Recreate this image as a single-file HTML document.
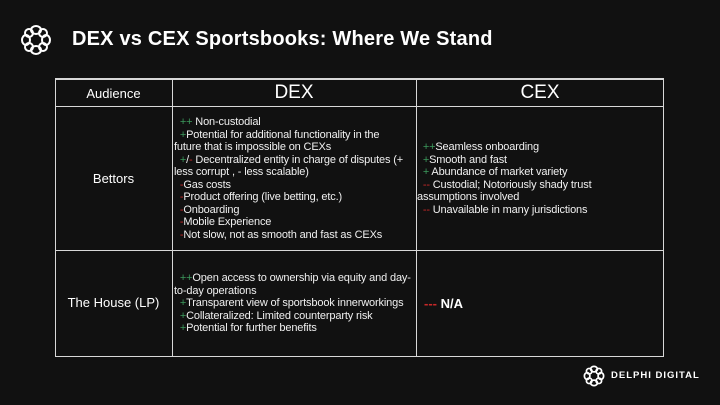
<!DOCTYPE html><html><head><style>
body{margin:0;width:720px;height:405px;background:#111111;overflow:hidden;font-family:"Liberation Sans",sans-serif;color:#fff;position:relative}
.a{position:absolute;white-space:nowrap}
.t{font-size:11px;letter-spacing:-0.15px;color:#f0f0f0;line-height:12.5px}
.g{color:#3c9a5c}.r{color:#c82828}
.ln{position:absolute;background:#d8d8d8}
</style></head><body>
<svg class="a" style="left:20px;top:24px" width="32" height="32" viewBox="0 0 32 32" fill="none" stroke="#fff" stroke-width="2">
<ellipse cx="16" cy="6" rx="5" ry="4"/><ellipse cx="16" cy="26" rx="5" ry="4"/><ellipse cx="6" cy="16" rx="4" ry="5"/><ellipse cx="26" cy="16" rx="4" ry="5"/>
<ellipse cx="9" cy="9" rx="4" ry="4"/><ellipse cx="23" cy="9" rx="4" ry="4"/><ellipse cx="9" cy="23" rx="4" ry="4"/><ellipse cx="23" cy="23" rx="4" ry="4"/></svg>
<div class="a" style="left:72px;top:28px;font-size:20px;font-weight:bold;letter-spacing:0.2px">DEX vs CEX Sportsbooks: Where We Stand</div>
<div class="ln" style="left:55px;top:78px;width:609px;height:2px"></div>
<div class="ln" style="left:55px;top:356px;width:609px;height:1px"></div>
<div class="ln" style="left:55px;top:78px;width:1px;height:279px"></div>
<div class="ln" style="left:663px;top:78px;width:1px;height:279px"></div>
<div class="ln" style="left:55px;top:106px;width:609px;height:1px"></div>
<div class="ln" style="left:55px;top:250px;width:609px;height:1px"></div>
<div class="ln" style="left:172px;top:78px;width:1px;height:279px"></div>
<div class="ln" style="left:416px;top:78px;width:1px;height:279px"></div>
<div class="a" style="left:55px;width:117px;text-align:center;top:86px;font-size:13px">Audience</div>
<div class="a" style="left:172px;width:244px;text-align:center;top:82px;font-size:19px">DEX</div>
<div class="a" style="left:416px;width:248px;text-align:center;top:82px;font-size:19px">CEX</div>
<div class="a" style="left:55px;width:117px;text-align:center;top:171px;font-size:13px">Bettors</div>
<div class="a" style="left:55px;width:117px;text-align:center;top:295px;font-size:13px">The House (LP)</div>
<div class="a t" style="left:174px;top:116px">
&nbsp;&nbsp;<span class="g">++</span> Non-custodial<br>
&nbsp;&nbsp;<span class="g">+</span>Potential for additional functionality in the<br>
future that is impossible on CEXs<br>
&nbsp;&nbsp;<span class="g">+</span>/<span class="r">-</span> Decentralized entity in charge of disputes (+<br>
less corrupt , - less scalable)<br>
&nbsp;&nbsp;<span class="r">-</span>Gas costs<br>
&nbsp;&nbsp;<span class="r">-</span>Product offering (live betting, etc.)<br>
&nbsp;&nbsp;<span class="r">-</span>Onboarding<br>
&nbsp;&nbsp;<span class="r">-</span>Mobile Experience<br>
&nbsp;&nbsp;<span class="r">-</span>Not slow, not as smooth and fast as CEXs</div>
<div class="a t" style="left:417px;top:141px">
&nbsp;&nbsp;<span class="g">++</span>Seamless onboarding<br>
&nbsp;&nbsp;<span class="g">+</span>Smooth and fast<br>
&nbsp;&nbsp;<span class="g">+</span> Abundance of market variety<br>
&nbsp;&nbsp;<span class="r">--</span> Custodial; Notoriously shady trust<br>
assumptions involved<br>
&nbsp;&nbsp;<span class="r">--</span> Unavailable in many jurisdictions</div>
<div class="a t" style="left:174px;top:272px">
&nbsp;&nbsp;<span class="g">++</span>Open access to ownership via equity and day-<br>
to-day operations<br>
&nbsp;&nbsp;<span class="g">+</span>Transparent view of sportsbook innerworkings<br>
&nbsp;&nbsp;<span class="g">+</span>Collateralized: Limited counterparty risk<br>
&nbsp;&nbsp;<span class="g">+</span>Potential for further benefits</div>
<div class="a" style="left:424px;top:296px;font-size:13px;font-weight:bold"><span class="r">---</span> N/A</div>
<svg class="a" style="left:583px;top:365px" width="22" height="22" viewBox="0 0 32 32" fill="none" stroke="#fff" stroke-width="2.5">
<ellipse cx="16" cy="6" rx="5" ry="4"/><ellipse cx="16" cy="26" rx="5" ry="4"/><ellipse cx="6" cy="16" rx="4" ry="5"/><ellipse cx="26" cy="16" rx="4" ry="5"/>
<ellipse cx="9" cy="9" rx="4" ry="4"/><ellipse cx="23" cy="9" rx="4" ry="4"/><ellipse cx="9" cy="23" rx="4" ry="4"/><ellipse cx="23" cy="23" rx="4" ry="4"/></svg>
<div class="a" style="left:611px;top:370px;font-size:9.5px;font-weight:bold;letter-spacing:1px">DELPHI DIGITAL</div>
</body></html>
